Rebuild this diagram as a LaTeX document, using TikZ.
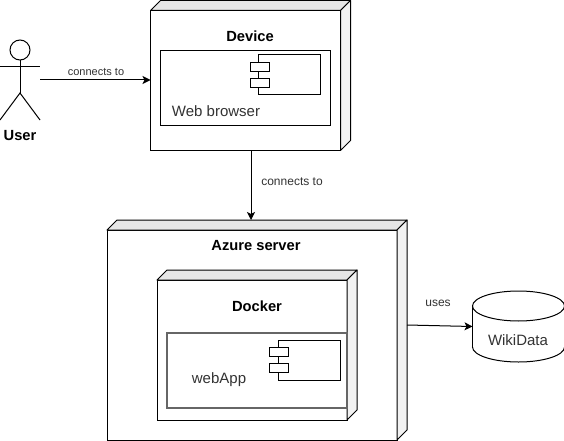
\documentclass[tikz,border=0pt]{standalone}
\usepackage{fontspec}
\setmainfont{Liberation Sans}
\usetikzlibrary{arrows.meta,calc}
\definecolor{topgray}{HTML}{E6E6E6}
\definecolor{sidegray}{HTML}{F2F2F2}
\definecolor{textgray}{HTML}{333333}
\definecolor{framegray}{HTML}{666666}
\tikzset{
  box/.style={draw=black,fill=white,line width=1pt,inner sep=0pt,outer sep=0pt},
  framebox/.style={box,minimum width=#1,minimum height=40pt},
  portbox/.style={box,minimum width=19pt,minimum height=9pt},
  titletext/.style={font=\fontsize{14.7}{16}\selectfont\bfseries,text=black},
  nametext/.style={font=\fontsize{15}{17}\selectfont,text=textgray},
  smalltext/.style={font=\fontsize{12}{14}\selectfont,text=textgray},
  link/.style={line width=1pt,-{Stealth[length=8pt,width=8pt,inset=2pt]}},
  actorline/.style={line width=1pt}
}
\newcommand{\sidefaces}[1]{
  \draw[line width=1pt,fill=topgray,line join=round]
    (#1.north west) -- ($(#1.north west)+(10,-10)$) -- ($(#1.north east)+(10,-10)$) -- (#1.north east) -- cycle;
  \draw[line width=1pt,fill=sidegray,line join=round]
    (#1.north east) -- ($(#1.north east)+(10,-10)$) -- ($(#1.south east)+(10,-10)$) -- (#1.south east) -- cycle;
}
\begin{document}
\begin{tikzpicture}[x=1pt,y=-1pt]
    \useasboundingbox (0,0) rectangle (564,441);
    \fill[white] (0,0) rectangle (564,441);
    % user
    \node[box,circle,minimum size=20pt] (head) at (20,50) {};
    \coordinate (hip) at (20,93);
    \coordinate (hand) at (40,80);
    \draw[actorline] (head.south) -- (hip);
    \draw[actorline] (0,66.5) -- (40,66.5);
    \draw[actorline] (0,120) -- (hip) -- (40,120);
    \node[titletext] (user) at (20,136) {User};
    % device
    \node[box,minimum width=190pt,minimum height=140pt] (device) at (245.5,80.5) {};
    \sidefaces{device}
    \node[titletext] (devicetitle) at (250,36) {Device};
    \node[box,minimum width=170pt,minimum height=75pt] (browser) at (245.5,88) {};
    \node[framebox=62pt] (browsercomp) at (289.5,75) {};
    \node[portbox] (browserport1) at (259.5,67.5) {};
    \node[portbox] (browserport2) at (259.5,83.5) {};
    \node[nametext] (browsertext) at (216,111) {Web browser};
    % server
    \node[box,minimum width=290pt,minimum height=210pt] (azure) at (252,335) {};
    \sidefaces{azure}
    \node[titletext] (azuretitle) at (256,246) {Azure server};
    \node[box,minimum width=190pt,minimum height=140pt] (docker) at (252,350) {};
    \sidefaces{docker}
    \node[titletext] (dockertitle) at (257,306) {Docker};
    \node[box,draw=framegray,line width=2pt,minimum width=180pt,minimum height=75pt] (webapp) at (257,370) {};
    \node[framebox=62pt] (webappcomp) at (309,360) {};
    \node[portbox] (webappport1) at (279,352) {};
    \node[portbox] (webappport2) at (279,368) {};
    \node[nametext] (webapptext) at (219,380) {webApp};
    % database
    \node[inner sep=0pt,outer sep=0pt,minimum width=92pt,minimum height=71pt] (wikidata) at (518.5,326.5) {};
    \draw[line width=1pt,fill=white] ($(wikidata.south)+(0,-15)$) ellipse[x radius=46,y radius=15];
    \fill[white] ($(wikidata.north west)+(0,15)$) rectangle ($(wikidata.south east)+(0,-15)$);
    \draw[line width=1pt] ($(wikidata.north west)+(0,15)$) -- ($(wikidata.south west)+(0,-15)$);
    \draw[line width=1pt] ($(wikidata.north east)+(0,15)$) -- ($(wikidata.south east)+(0,-15)$);
    \draw[line width=1pt,fill=white] ($(wikidata.north)+(0,15)$) ellipse[x radius=46,y radius=15];
    \node[nametext] (wikitext) at (518,340) {WikiData};
    % connectors
    \coordinate (azureside) at ($(azure.east)+(10,-10)$);
    \coordinate (devicefoot) at ($(device.south)+(5.5,0)$);
    \coordinate (azuretop) at ($(azure.north)+(0,-10)$);
    \draw[link] (hand) -- (device.west |- hand);
    \draw[link] (devicefoot) -- (devicefoot |- azuretop);
    \draw[link] (azureside) -- (wikidata.west);
    \node[smalltext,font=\fontsize{11}{13}\selectfont] (linkone) at (96,71.5) {connects to};
    \node[smalltext] (linktwo) at (292,182) {connects to};
    \node[smalltext] (linkthree) at (438,303) {uses};
\end{tikzpicture}
\end{document}
